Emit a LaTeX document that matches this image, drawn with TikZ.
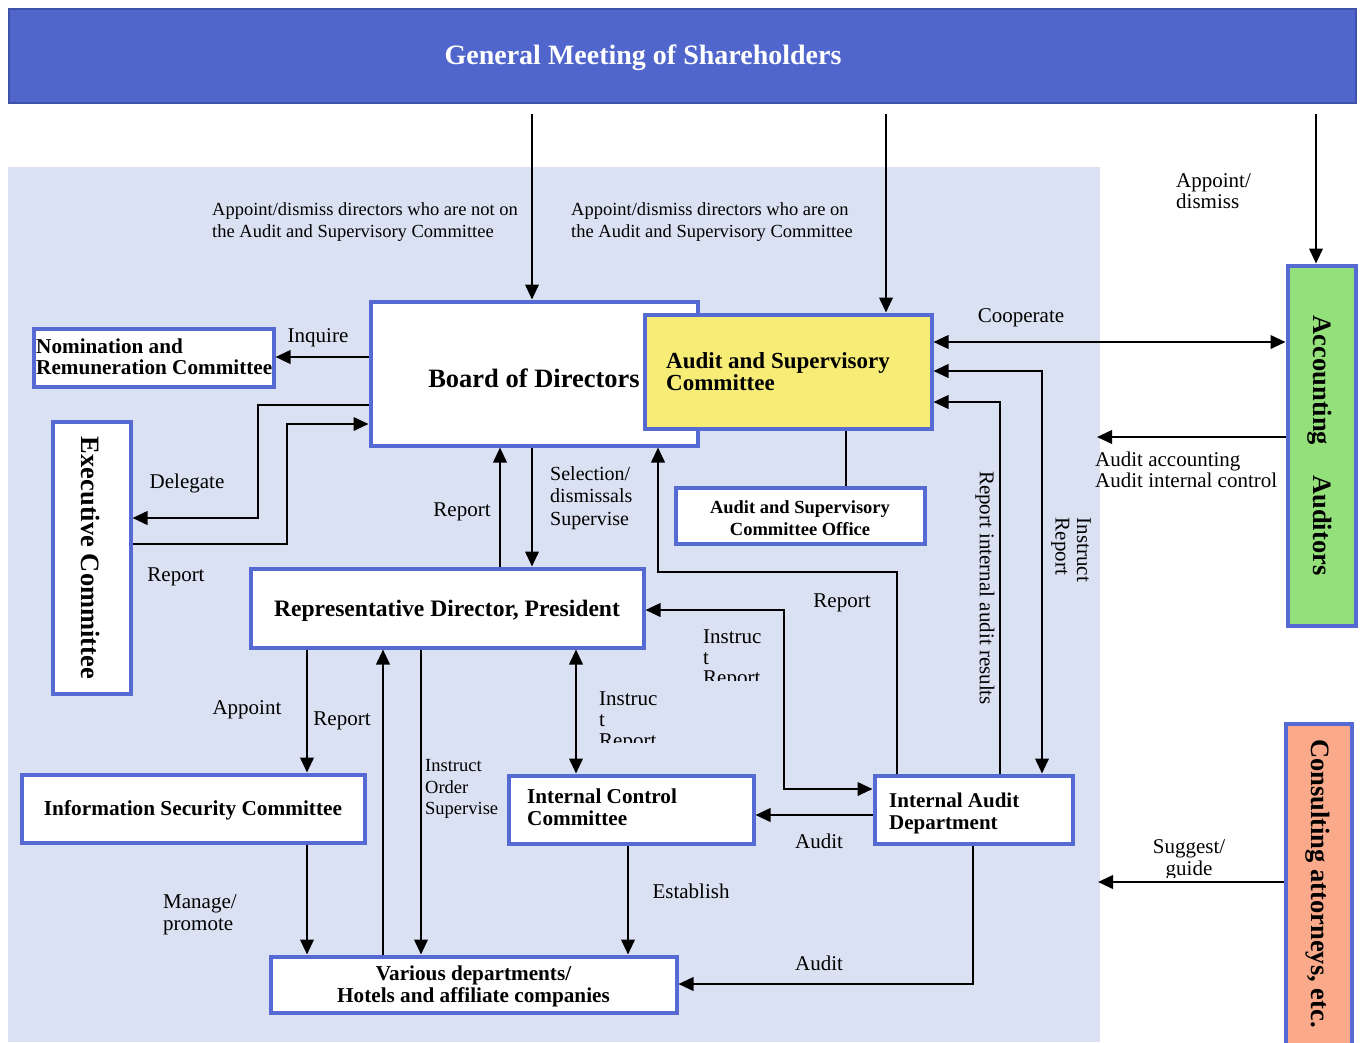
\documentclass[tikz,border=0pt]{standalone}
\usepackage{fontspec}
\setmainfont{Liberation Serif}
\usetikzlibrary{arrows.meta}
\definecolor{gmblue}{RGB}{80,102,204}
\definecolor{gmborder}{RGB}{62,82,170}
\definecolor{boxblue}{RGB}{86,106,212}
\definecolor{bgblue}{RGB}{218,225,242}
\definecolor{ylw}{RGB}{247,236,117}
\definecolor{grn}{RGB}{148,224,122}
\definecolor{slm}{RGB}{250,170,138}
\begin{document}
\begin{tikzpicture}[x=1pt,y=-1pt,
  >={Triangle[length=15pt,width=13.5pt]},
  box/.style={draw=boxblue, line width=4pt, fill=white, inner sep=0pt},
  btxt/.style={inner sep=0pt, align=left},
  lbl/.style={inner sep=0pt, font=\fontsize{21}{21.5}\selectfont, align=left},
  slbl/.style={inner sep=0pt, font=\fontsize{18.5}{22}\selectfont, align=left},
  vtxt/.style={inner sep=0pt, rotate=-90, font=\bfseries\fontsize{26.5}{30}\selectfont},
  arr/.style={line width=2.3pt, ->},
  darr/.style={line width=2.3pt, <->},
  ln/.style={line width=2.3pt}]
\useasboundingbox (0,0) rectangle (1364,1042);
\fill[white] (0,0) rectangle (1364,1042);
\fill[bgblue] (8,167) rectangle (1100,1042);

% top banner
\node[draw=gmborder, line width=2.5pt, fill=gmblue, minimum width=1347pt, minimum height=94pt, inner sep=0pt] (gm) at (682.5,56) {};
\node[inner sep=0pt, text=white, font=\bfseries\fontsize{28}{32}\selectfont] (gmt) at (643,58) {General Meeting of Shareholders};

% boxes
\node[box, minimum width=327pt, minimum height=144pt] (board) at (534,373.5) {};
\node[btxt, font=\bfseries\fontsize{26.5}{30}\selectfont] (boardt) at (534,378) {Board of Directors};
\node[box, fill=ylw, minimum width=287pt, minimum height=114pt] (asc) at (788,371.5) {};
\node[btxt, anchor=west, font=\bfseries\fontsize{23}{22}\selectfont] (asct) at (666,371.5) {Audit and Supervisory\\Committee};
\node[box, minimum width=240pt, minimum height=58pt] (nom) at (153.5,357.5) {};
\node[btxt, anchor=west, font=\bfseries\fontsize{21.2}{21}\selectfont] (nomt) at (36,356.5) {Nomination and\\Remuneration Committee};
\node[box, minimum width=78pt, minimum height=272pt] (exec) at (91.5,557.5) {};
\node[vtxt] (exect) at (91,558) {Executive Committee};
\node[box, minimum width=393pt, minimum height=79pt] (rep) at (447,608) {};
\node[btxt, font=\bfseries\fontsize{23.6}{26}\selectfont] (rept) at (447,611) {Representative Director, President};
\node[box, minimum width=249pt, minimum height=56pt] (office) at (800,515.5) {};
\node[btxt, align=center, font=\bfseries\fontsize{18.5}{22}\selectfont] (officet) at (800,518.5) {Audit and Supervisory\\Committee Office};
\node[box, fill=grn, minimum width=68pt, minimum height=360pt] (acct) at (1321.5,445.5) {};
\node[vtxt] (acctt) at (1320,445.5) {Accounting\hspace{30pt}Auditors};
\node[box, fill=slm, minimum width=66pt, minimum height=330pt] (cons) at (1318.5,888.5) {};
\node[vtxt] (const) at (1318,883.5) {Consulting attorneys, etc.};
\node[box, minimum width=343pt, minimum height=68pt] (isc) at (193,808.5) {};
\node[btxt, font=\bfseries\fontsize{21.3}{22}\selectfont] (isct) at (193,810.5) {Information Security Committee};
\node[box, minimum width=245pt, minimum height=68pt] (icc) at (631,809.5) {};
\node[btxt, anchor=west, font=\bfseries\fontsize{21.2}{22}\selectfont] (icct) at (527,807) {Internal Control\\Committee};
\node[box, minimum width=198pt, minimum height=68pt] (ia) at (973.5,809.5) {};
\node[btxt, anchor=west, font=\bfseries\fontsize{21}{22}\selectfont] (iat) at (889,813) {Internal Audit\\Department};
\node[box, minimum width=406pt, minimum height=56pt] (var) at (473.5,984.5) {};
\node[btxt, align=center, font=\bfseries\fontsize{21.2}{22}\selectfont] (vart) at (473.5,986) {Various departments/\\Hotels and affiliate companies};

% connectors from the general meeting
\draw[arr, shorten <=10pt] (gm.south -| 532,0) -- (board.north -| 532,0);
\draw[arr, shorten <=10pt] (gm.south -| 886,0) -- (asc.north -| 886,0);
\draw[arr, shorten <=10pt] (gm.south -| 1316,0) -- (acct.north -| 1316,0);

% board relations
\draw[arr] (board.west |- 0,357) -- (nom.east |- 0,357);
\draw[arr] (board.west |- 0,405) -- (258,405) -- (258,518) -- (exec.east |- 0,518);
\draw[arr] (exec.east |- 0,544) -- (287,544) -- (287,424) -- (board.west |- 0,424);
\draw[arr] (rep.north -| 500,0) -- (board.south -| 500,0);
\draw[arr] (board.south -| 532,0) -- (rep.north -| 532,0);
\draw[ln] (asc.south -| 846,0) -- (office.north -| 846,0);
\draw[arr] (ia.north -| 897,0) -- (897,572) -- (658,572) -- (board.south -| 658,0);
\draw[darr] (rep.east |- 0,610) -- (784,610) -- (784,789) -- (ia.west |- 0,789);
\draw[darr] (rep.south -| 576,0) -- (icc.north -| 576,0);
\draw[arr] (ia.west |- 0,815) -- (icc.east |- 0,815);
\draw[arr] (ia.north -| 1000,0) -- (1000,402) -- (asc.east |- 0,402);
\draw[darr] (asc.east |- 0,371) -- (1042,371) -- (ia.north -| 1042,0);
\draw[darr] (asc.east |- 0,342) -- (acct.west |- 0,342);
\coordinate (aaend) at (1097,437);
\draw[arr] (acct.west |- aaend) -- (aaend);
\coordinate (sgend) at (1098,882);
\draw[arr] (cons.west |- sgend) -- (sgend);
\draw[arr] (rep.south -| 307,0) -- (isc.north -| 307,0);
\draw[arr] (var.north -| 383,0) -- (rep.south -| 383,0);
\draw[arr] (rep.south -| 421,0) -- (var.north -| 421,0);
\draw[arr] (isc.south -| 307,0) -- (var.north -| 307,0);
\draw[arr] (icc.south -| 628,0) -- (var.north -| 628,0);
\draw[arr] (ia.south -| 973,0) -- (973,984) -- (var.east |- 0,984);

% labels
\node[slbl, anchor=west] (l1) at (212,222) {Appoint/dismiss directors who are not on\\the Audit and Supervisory Committee};
\node[slbl, anchor=west] (l2) at (571,222) {Appoint/dismiss directors who are on\\the Audit and Supervisory Committee};
\node[lbl, anchor=west] (l3) at (1176,191) {Appoint/\\dismiss};
\node[lbl] (l4) at (318,338) {Inquire};
\node[lbl] (l5) at (187,483) {Delegate};
\node[lbl] (l6) at (176,577) {Report};
\node[lbl] (l7) at (462,512) {Report};
\node[lbl, anchor=west, font=\fontsize{20}{22.5}\selectfont] (l8) at (550,498) {Selection/\\dismissals\\Supervise};
\node[lbl] (l9) at (1021,318) {Cooperate};
\node[lbl, anchor=west] (l10) at (1095,470) {Audit accounting\\Audit internal control};
\node[lbl, rotate=-90] (l11) at (985,588) {Report internal audit results};
\node[lbl, rotate=-90] (l12) at (1071,550) {Instruct\\Report};
\node[lbl] (l13) at (842,603) {Report};
\begin{scope}
\clip (690,615) rectangle (790,680);
\node[lbl, anchor=west, font=\fontsize{21}{20.5}\selectfont] (l14) at (703,659.5) {Instruc\\t\\Report};
\end{scope}
\begin{scope}
\clip (590,677) rectangle (690,742);
\node[lbl, anchor=west, font=\fontsize{21}{21}\selectfont] (l15) at (599,722) {Instruc\\t\\Report};
\end{scope}
\node[lbl] (l16) at (247,710) {Appoint};
\node[lbl] (l17) at (342,721) {Report};
\node[slbl, anchor=west, font=\fontsize{18.5}{21.5}\selectfont] (l18) at (425,789) {Instruct\\Order\\Supervise};
\node[lbl] (l19) at (819,841) {Audit};
\node[lbl] (l20) at (691,891) {Establish};
\node[lbl, anchor=west] (l21) at (163,915) {Manage/\\promote};
\node[lbl] (l22) at (819,963) {Audit};
\begin{scope}
\clip (1140,830) rectangle (1240,877);
\node[lbl, align=center] (l23) at (1189,860) {Suggest/\\guide};
\end{scope}
\end{tikzpicture}
\end{document}
